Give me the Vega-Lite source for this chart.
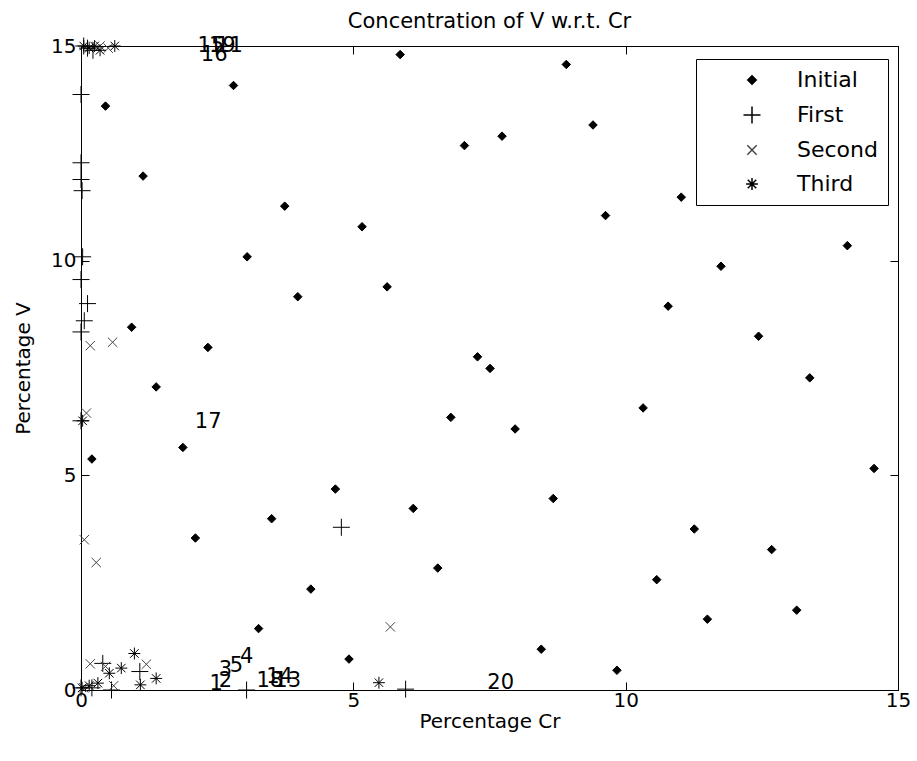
{
  "$schema": "https://vega.github.io/schema/vega-lite/v6.json",
  "width": 817,
  "height": 644,
  "autosize": "none",
  "padding": {"left": 81, "top": 46, "right": 19, "bottom": 71},
  "background": "white",
  "config": {
    "font": "DejaVu Sans",
    "view": {"stroke": "black", "strokeWidth": 1},
    "axis": {
      "grid": false, "domainColor": "black", "tickColor": "black", "labelColor": "black", "titleColor": "black",
      "labelFont": "DejaVu Sans", "titleFont": "DejaVu Sans", "labelFontSize": 20, "titleFontSize": 20,
      "titleFontWeight": "normal", "tickSize": -8, "domainWidth": 1, "tickWidth": 1, "labelFlush": false, "labelOverlap": false
    },
    "legend": {
      "orient": "none", "legendX": 615, "legendY": 13, "strokeColor": "black", "fillColor": "white",
      "padding": 10, "labelFont": "DejaVu Sans", "labelFontSize": 22, "labelColor": "black",
      "rowPadding": 12, "symbolOffset": 35, "labelOffset": 34, "labelLimit": 300, "symbolSize": 289
    }
  },
  "title": {"text": "Concentration of V w.r.t. Cr", "fontSize": 21, "fontWeight": "normal", "font": "DejaVu Sans", "color": "black", "offset": 3},
  "datasets": {
    "pts": [
      {"series": "Initial", "cr": 5.86, "v": 14.80}, {"series": "Initial", "cr": 2.80, "v": 14.08}, {"series": "Initial", "cr": 0.45, "v": 13.60},
      {"series": "Initial", "cr": 7.04, "v": 12.68}, {"series": "Initial", "cr": 1.14, "v": 11.97}, {"series": "Initial", "cr": 3.74, "v": 11.27},
      {"series": "Initial", "cr": 5.16, "v": 10.79}, {"series": "Initial", "cr": 3.05, "v": 10.09}, {"series": "Initial", "cr": 5.62, "v": 9.39},
      {"series": "Initial", "cr": 3.98, "v": 9.16}, {"series": "Initial", "cr": 0.93, "v": 8.45}, {"series": "Initial", "cr": 2.33, "v": 7.98},
      {"series": "Initial", "cr": 7.28, "v": 7.76}, {"series": "Initial", "cr": 7.51, "v": 7.49},
      {"series": "Initial", "cr": 8.91, "v": 14.57}, {"series": "Initial", "cr": 7.73, "v": 12.90}, {"series": "Initial", "cr": 9.40, "v": 13.16},
      {"series": "Initial", "cr": 11.02, "v": 11.48}, {"series": "Initial", "cr": 9.63, "v": 11.05}, {"series": "Initial", "cr": 14.07, "v": 10.35},
      {"series": "Initial", "cr": 11.75, "v": 9.87}, {"series": "Initial", "cr": 10.78, "v": 8.94}, {"series": "Initial", "cr": 12.44, "v": 8.24},
      {"series": "Initial", "cr": 13.38, "v": 7.27}, {"series": "Initial", "cr": 10.32, "v": 6.57}, {"series": "Initial", "cr": 7.97, "v": 6.08},
      {"series": "Initial", "cr": 14.56, "v": 5.16}, {"series": "Initial", "cr": 8.67, "v": 4.46}, {"series": "Initial", "cr": 11.26, "v": 3.75},
      {"series": "Initial", "cr": 10.57, "v": 2.57}, {"series": "Initial", "cr": 12.68, "v": 3.27}, {"series": "Initial", "cr": 13.14, "v": 1.86},
      {"series": "Initial", "cr": 11.50, "v": 1.65}, {"series": "Initial", "cr": 8.45, "v": 0.95}, {"series": "Initial", "cr": 9.84, "v": 0.46},
      {"series": "Initial", "cr": 1.38, "v": 7.06}, {"series": "Initial", "cr": 1.87, "v": 5.65}, {"series": "Initial", "cr": 0.20, "v": 5.38},
      {"series": "Initial", "cr": 6.79, "v": 6.35}, {"series": "Initial", "cr": 4.67, "v": 4.68}, {"series": "Initial", "cr": 6.10, "v": 4.23},
      {"series": "Initial", "cr": 3.50, "v": 3.99}, {"series": "Initial", "cr": 2.10, "v": 3.54}, {"series": "Initial", "cr": 6.55, "v": 2.84},
      {"series": "Initial", "cr": 4.22, "v": 2.35}, {"series": "Initial", "cr": 3.26, "v": 1.43}, {"series": "Initial", "cr": 4.92, "v": 0.72},
      {"series": "First", "cr": 0.0, "v": 13.87}, {"series": "First", "cr": 0.0, "v": 12.28}, {"series": "First", "cr": 0.0, "v": 11.89},
      {"series": "First", "cr": 0.02, "v": 11.63}, {"series": "First", "cr": 0.03, "v": 10.09}, {"series": "First", "cr": 0.0, "v": 9.56},
      {"series": "First", "cr": 0.12, "v": 9.0}, {"series": "First", "cr": 0.06, "v": 8.6}, {"series": "First", "cr": 0.0, "v": 8.34},
      {"series": "First", "cr": 0.0, "v": 6.27}, {"series": "First", "cr": 4.78, "v": 3.79}, {"series": "First", "cr": 5.96, "v": 0.02},
      {"series": "First", "cr": 3.04, "v": 0.0}, {"series": "First", "cr": 0.56, "v": 0.0}, {"series": "First", "cr": 0.4, "v": 0.62},
      {"series": "First", "cr": 1.08, "v": 0.43}, {"series": "First", "cr": 0.0, "v": 0.05}, {"series": "First", "cr": 0.2, "v": 0.05},
      {"series": "First", "cr": 0.05, "v": 15.0}, {"series": "First", "cr": 0.12, "v": 14.95}, {"series": "First", "cr": 0.22, "v": 14.9},
      {"series": "Second", "cr": 0.17, "v": 8.02}, {"series": "Second", "cr": 0.58, "v": 8.10}, {"series": "Second", "cr": 0.10, "v": 6.45},
      {"series": "Second", "cr": 0.06, "v": 3.50}, {"series": "Second", "cr": 0.28, "v": 2.97}, {"series": "Second", "cr": 5.68, "v": 1.47},
      {"series": "Second", "cr": 0.17, "v": 0.61}, {"series": "Second", "cr": 1.2, "v": 0.6}, {"series": "Second", "cr": 0.45, "v": 0.55},
      {"series": "Second", "cr": 0.35, "v": 15.0}, {"series": "Second", "cr": 0.5, "v": 14.95}, {"series": "Second", "cr": 0.05, "v": 0.05},
      {"series": "Second", "cr": 0.6, "v": 0.1},
      {"series": "Third", "cr": 0.03, "v": 6.27}, {"series": "Third", "cr": 0.98, "v": 0.85}, {"series": "Third", "cr": 0.74, "v": 0.51},
      {"series": "Third", "cr": 0.52, "v": 0.39}, {"series": "Third", "cr": 1.38, "v": 0.27}, {"series": "Third", "cr": 1.09, "v": 0.12},
      {"series": "Third", "cr": 5.47, "v": 0.17}, {"series": "Third", "cr": 0.31, "v": 0.16}, {"series": "Third", "cr": 0.02, "v": 0.05},
      {"series": "Third", "cr": 0.15, "v": 0.1}, {"series": "Third", "cr": 0.05, "v": 15.0}, {"series": "Third", "cr": 0.15, "v": 14.95},
      {"series": "Third", "cr": 0.25, "v": 15.0}, {"series": "Third", "cr": 0.35, "v": 14.9}, {"series": "Third", "cr": 0.62, "v": 15.0}
    ],
    "labels": [
      {"label": "17", "cr": 2.09, "v": 6.25}, {"label": "20", "cr": 7.46, "v": 0.16},
      {"label": "1", "cr": 2.36, "v": 0.14}, {"label": "2", "cr": 2.53, "v": 0.22}, {"label": "3", "cr": 2.53, "v": 0.47},
      {"label": "5", "cr": 2.73, "v": 0.56}, {"label": "4", "cr": 2.92, "v": 0.78},
      {"label": "18", "cr": 3.22, "v": 0.22}, {"label": "14", "cr": 3.4, "v": 0.3}, {"label": "13", "cr": 3.55, "v": 0.22},
      {"label": "15", "cr": 2.14, "v": 15.0}, {"label": "16", "cr": 2.2, "v": 14.78}, {"label": "19", "cr": 2.35, "v": 15.0},
      {"label": "11", "cr": 2.48, "v": 15.0}
    ]
  },
  "layer": [
    {
      "data": {"name": "pts"},
      "mark": {"type": "point", "opacity": 1, "strokeWidth": 1, "size": 289},
      "encoding": {
        "x": {"field": "cr", "type": "quantitative", "scale": {"domain": [0, 15], "nice": false, "zero": false},
              "axis": {"orient": "bottom", "values": [0, 5, 10, 15], "title": "Percentage Cr", "labelPadding": 8, "titlePadding": 1}},
        "y": {"field": "v", "type": "quantitative", "scale": {"domain": [0, 15], "nice": false, "zero": false},
              "axis": {"orient": "left", "values": [0, 5, 10, 15], "title": "Percentage V", "labelPadding": 13, "titlePadding": 17}},
        "shape": {"field": "series", "type": "nominal", "title": null,
                  "scale": {"domain": ["Initial", "First", "Second", "Third"],
                            "range": ["M-0.5,0L0,-0.5L0.5,0L0,0.5Z", "M-1,0L1,0M0,-1L0,1", "M-0.55,-0.55L0.55,0.55M-0.55,0.55L0.55,-0.55", "M-0.7,0L0.7,0M0,-0.7L0,0.7M-0.5,-0.5L0.5,0.5M-0.5,0.5L0.5,-0.5"]}},
        "fill": {"field": "series", "type": "nominal", "title": null,
                 "scale": {"domain": ["Initial", "First", "Second", "Third"], "range": ["black", "transparent", "transparent", "transparent"]}},
        "stroke": {"field": "series", "type": "nominal", "title": null,
                   "scale": {"domain": ["Initial", "First", "Second", "Third"], "range": ["black", "black", "#444444", "black"]}}
      }
    },
    {
      "data": {"name": "labels"},
      "mark": {"type": "text", "align": "left", "baseline": "middle", "fontSize": 21, "font": "DejaVu Sans", "color": "black"},
      "encoding": {
        "x": {"field": "cr", "type": "quantitative", "scale": {"domain": [0, 15], "nice": false, "zero": false},
              "axis": {"orient": "top", "values": [0, 5, 10, 15], "labels": false, "title": null}},
        "y": {"field": "v", "type": "quantitative", "scale": {"domain": [0, 15], "nice": false, "zero": false},
              "axis": {"orient": "right", "values": [0, 5, 10, 15], "labels": false, "title": null}},
        "text": {"field": "label", "type": "nominal"}
      }
    }
  ],
  "resolve": {"axis": {"x": "independent", "y": "independent"}}
}
